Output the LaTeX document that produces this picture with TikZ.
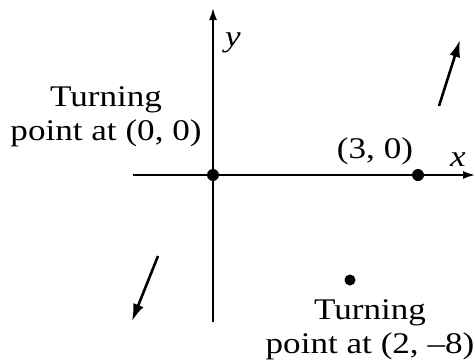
\documentclass[tikz,border=0pt]{standalone}
\usepackage{fontspec}
\setmainfont{Liberation Serif}[FakeStretch=1.17]
\usetikzlibrary{arrows.meta}
\begin{document}
\begin{tikzpicture}[x=1pt,y=-1pt,
  axis/.style={line width=1.8pt,-{Latex[length=12pt,width=8pt]}},
  trend/.style={line width=2.6pt,-{Latex[length=17pt,width=11pt]}},
  dot/.style={circle,fill=black,inner sep=0pt,minimum size=#1},
  lbl/.style={font=\fontsize{30}{34}\selectfont,align=center,inner sep=0pt}]
\useasboundingbox (0,0) rectangle (475,360);
\coordinate (yb) at (213,322);
\coordinate (yt) at (213,8);
\coordinate (xl) at (133,175);
\coordinate (xr) at (475,175);
\draw[axis] (yb) -- (yt);
\draw[axis] (xl) -- (xr);
\node[dot=12pt] (o) at (213,175) {};
\node[dot=12pt] (p3) at (418,175) {};
\node[dot=11pt] (p2) at (350,280) {};
\node[lbl] (ylab) at (233,43) {\textit{y}};
\node[lbl] (xlab) at (458,160) {\textit{x}};
\node[lbl] (l0) at (106,117) {Turning\\point at (0, 0)};
\node[lbl] (l3) at (375,151) {(3, 0)};
\node[lbl] (l2) at (370,330) {Turning\\point at (2, –8)};
\coordinate (a1s) at (439,106);
\coordinate (a1e) at (460,40);
\draw[trend] (a1s) -- (a1e);
\coordinate (a2s) at (158,256);
\coordinate (a2e) at (132,321);
\draw[trend] (a2s) -- (a2e);
\end{tikzpicture}
\end{document}
